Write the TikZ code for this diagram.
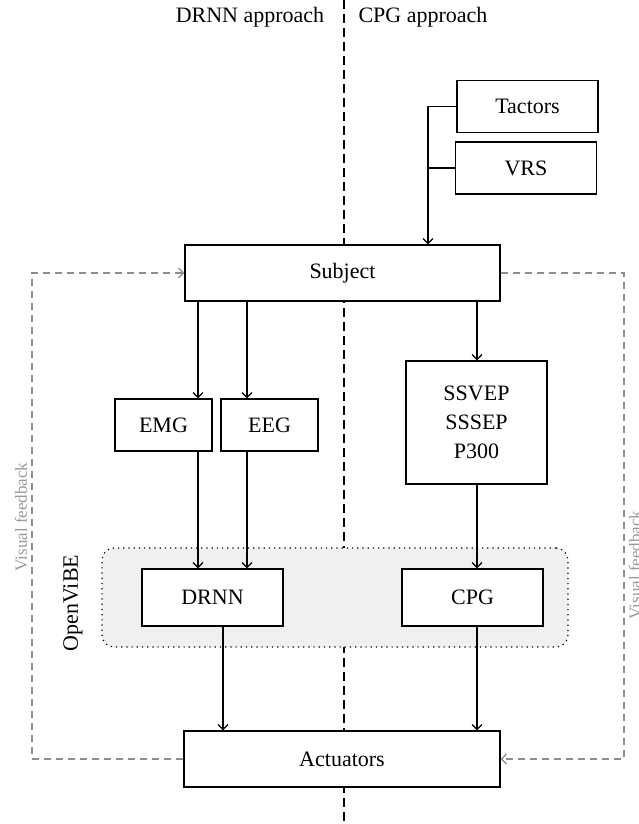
\documentclass[tikz,border=0pt]{standalone}
\usepackage{fontspec}
\setmainfont{Liberation Serif}
\usetikzlibrary{arrows.meta}
\tikzset{box/.style = {draw, fill = white, line width = 0.6pt, minimum width = 70.5pt,
                       minimum height = 26pt, inner sep = 0, font = \fontsize{11}{14.5}\selectfont}}
\tikzset{arr/.style = {line width = 0.6pt, -{Straight Barb[length = 2.5pt, width = 5pt]}}}
\tikzset{fback/.style = {draw = black!45, dash pattern = on 3.5pt off 2.5pt}}
\tikzset{lbl/.style = {font = \fontsize{11}{14.5}\selectfont}}
\tikzset{fblbl/.style = {font = \fontsize{8.5}{10}\selectfont, text = black!40, rotate = 90}}
\tikzset{region/.style = {draw, dotted, line width = 0.6pt, fill = black!6, rounded corners = 6pt,
                          minimum width = 233pt, minimum height = 49.5pt}}

\begin{document}
\begin{tikzpicture}[x = 0.5pt, y = -0.5pt]
      \useasboundingbox (0, 0) rectangle (638, 824);

      \draw [line width = 0.6pt, dash pattern = on 4.5pt off 2.5pt] (344, 0) -- (344, 824);

      \node [lbl] (drnnap) at (250, 17) {DRNN approach};
      \node [lbl] (cpgap) at (423, 17) {CPG approach};

      \node [region] (ovibe) at (335, 597.5) {};
      \node [lbl, rotate = 90] (ovibelbl) at (73, 603) {OpenViBE};

      \node [box] (tactors) at (527.5, 106.5) {Tactors};
      \node [box] (vrs) at (526, 168) {VRS};
      \node [box, minimum width = 157.5pt, minimum height = 28pt] (subject) at (342.5, 273) {Subject};
      \node [box, minimum width = 48.5pt] (emg) at (163.5, 425) {EMG};
      \node [box, minimum width = 48.5pt] (eeg) at (269.5, 425) {EEG};
      \node [box, minimum height = 61.5pt, align = center] (ssvep) at (476.5, 422.5) {SSVEP\\SSSEP\\P300};
      \node [box, minimum height = 28.5pt] (drnn) at (212.5, 597.5) {DRNN};
      \node [box, minimum height = 28.5pt] (cpg) at (472.5, 597.5) {CPG};
      \node [box, minimum width = 158pt, minimum height = 28pt] (act) at (342, 759) {Actuators};

      \coordinate (xsens) at (428, 0);
      \coordinate (xemg) at (198, 0);
      \coordinate (xeeg) at (247, 0);
      \coordinate (xcpg) at (477, 0);
      \coordinate (xdrnn) at (223, 0);
      \coordinate (fbl) at (32, 0);
      \coordinate (fbr) at (624, 0);

      \draw [arr] (tactors.west) -| (subject.north -| xsens);
      \draw [line width = 0.6pt] (vrs.west) -- (vrs.west -| xsens);

      \draw [arr] (subject.south -| xemg) -- (emg.north -| xemg);
      \draw [arr] (subject.south -| xeeg) -- (eeg.north -| xeeg);
      \draw [arr] (subject.south -| xcpg) -- (ssvep.north -| xcpg);
      \draw [arr] (emg.south -| xemg) -- (drnn.north -| xemg);
      \draw [arr] (eeg.south -| xeeg) -- (drnn.north -| xeeg);
      \draw [arr] (ssvep.south -| xcpg) -- (cpg.north -| xcpg);
      \draw [arr] (drnn.south -| xdrnn) -- (act.north -| xdrnn);
      \draw [arr] (cpg.south -| xcpg) -- (act.north -| xcpg);

      \draw [arr, fback] (act.west) -| (fbl |- subject.west) -- (subject.west);
      \draw [arr, fback] (subject.east) -| (fbr |- act.east) -- (act.east);
      \node [fblbl] (vfl) at (21, 517) {Visual feedback};
      \node [fblbl] (vfr) at (635, 565) {Visual feedback};
    \end{tikzpicture}
\end{document}
